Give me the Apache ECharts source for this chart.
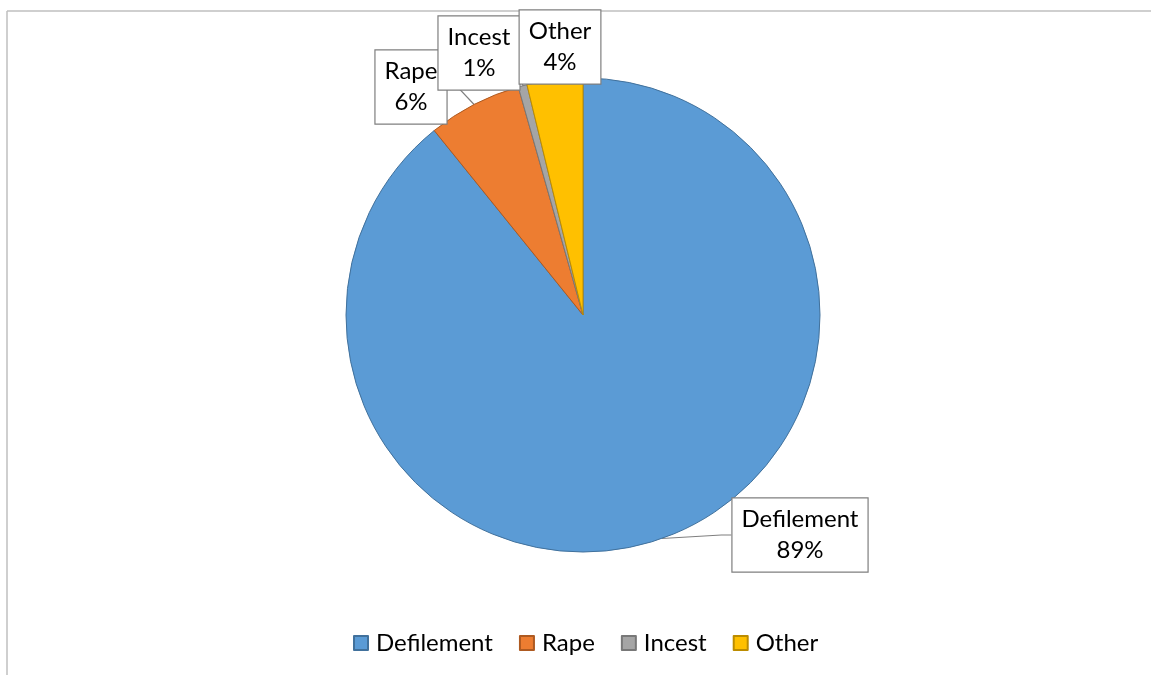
<!DOCTYPE html>
<html>
<head>
<meta charset="utf-8">
<script src="https://cdn.jsdelivr.net/npm/echarts@6/dist/echarts.min.js"></script>
<style>
  html, body { margin: 0; padding: 0; background: #ffffff; }
  #chart { width: 1151px; height: 675px; }
</style>
</head>
<body>
<div id="chart"></div>
<script>
// Case categories and their shares (%)
const categories = ['Defilement', 'Rape', 'Incest', 'Other'];
const shares = [89.2, 6.4, 0.6, 3.8];
const colors = ['#5B9BD5', '#ED7D31', '#A5A5A5', '#FFC000'];
const edgeColors = ['#41719C', '#AE5A21', '#787878', '#BC8C00'];

// Callout box centres for each category label
const labelCentres = [[800, 535], [411, 87], [479, 53], [560, 47]];

const chart = echarts.init(document.getElementById('chart'));
const font = 'Lato, "Open Sans", sans-serif';

chart.setOption({
  animation: false,
  backgroundColor: '#ffffff',
  color: colors,
  graphic: [
    { type: 'line', shape: { x1: 7, y1: 11, x2: 1151, y2: 11 }, style: { stroke: '#BFBFBF', lineWidth: 1.5 } },
    { type: 'line', shape: { x1: 7, y1: 11, x2: 7, y2: 675 }, style: { stroke: '#BFBFBF', lineWidth: 1.5 } }
  ],
  legend: {
    bottom: 20,
    left: 353,
    padding: 0,
    itemWidth: 14,
    itemHeight: 14,
    itemGap: 26,
    icon: 'rect',
    textStyle: { fontFamily: font, fontSize: 24, color: '#000000', padding: [0, 0, 0, 3] },
    data: categories
  },
  series: [{
    type: 'pie',
    center: [583, 315],
    radius: [0, 237],
    startAngle: 90,
    clockwise: true,
    data: categories.map((name, i) => ({
      name,
      value: shares[i],
      itemStyle: { color: colors[i], borderColor: edgeColors[i], borderWidth: 1 }
    })),
    label: {
      show: true,
      formatter: '{b}\n{d}%',
      fontFamily: font,
      fontSize: 24,
      lineHeight: 31,
      color: '#000000',
      align: 'center',
      backgroundColor: '#ffffff',
      borderColor: '#7F7F7F',
      borderWidth: 1.2,
      padding: [6, 9, 5, 9]
    },
    percentPrecision: 0,
    labelLine: {
      show: true,
      length: 10,
      length2: 10,
      lineStyle: { color: '#7F7F7F', width: 1.2 }
    },
    labelLayout: (params) => {
      const c = labelCentres[params.dataIndex];
      return { x: c[0], y: c[1], align: 'center', verticalAlign: 'middle' };
    }
  }]
});
</script>
</body>
</html>
